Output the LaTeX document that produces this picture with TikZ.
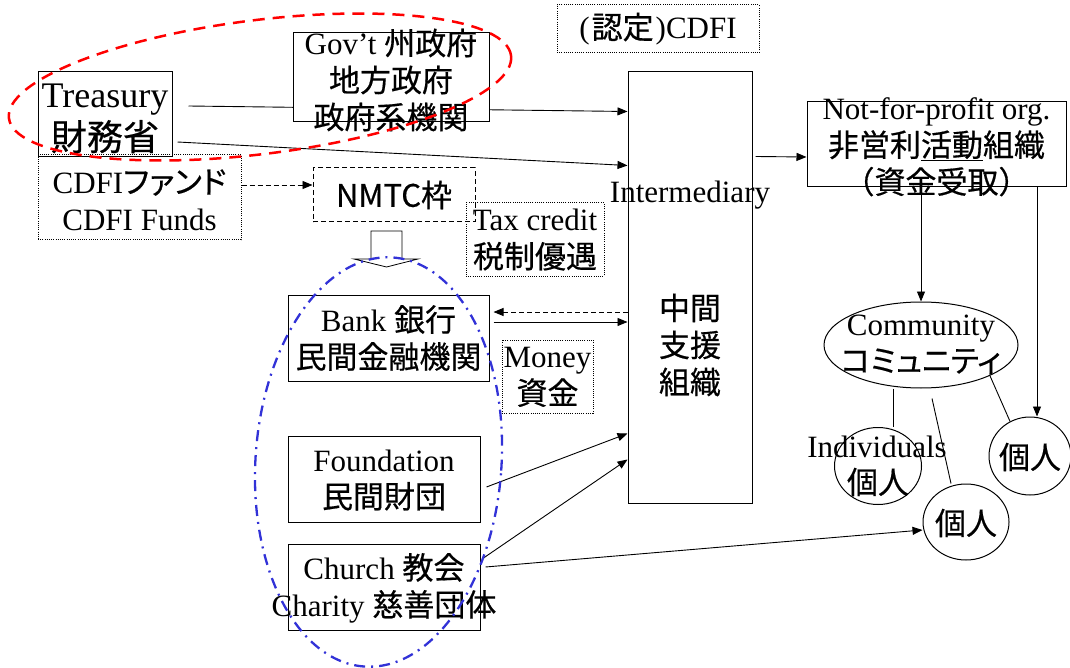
\documentclass[tikz,border=0pt]{standalone}
\usepackage{fontspec}
\setmainfont{Liberation Serif}
\newfontfamily\jp[FakeBold=0.5]{Noto Sans CJK JP}
\newfontfamily\jpp[RawFeature=+palt,FakeBold=0.5]{Noto Sans CJK JP}
\usetikzlibrary{arrows.meta,shapes.geometric}
\begin{document}
\begin{tikzpicture}[x=1pt,y=-1pt,
  >={Triangle[length=10pt,width=8pt]},
  box/.style={draw,rectangle,inner sep=0pt,line width=1pt},
  dotbox/.style={box,dash pattern=on 1pt off 1.2pt},
  dashbox/.style={box,dash pattern=on 5pt off 3pt},
  oval/.style={draw,ellipse,inner sep=0pt,line width=1pt},
  txt/.style={align=center,inner sep=0pt,font=\fontsize{31}{37}\selectfont},
  bigtxt/.style={align=center,inner sep=0pt,font=\fontsize{36}{43}\selectfont},
  conn/.style={line width=0.9pt},
  dconn/.style={line width=0.9pt,dash pattern=on 5pt off 3pt},
  redring/.style={draw=red,line width=2.5pt,dash pattern=on 12pt off 8pt},
  bluering/.style={draw={rgb,255:red,50;green,50;blue,215},line width=2.3pt,dash pattern=on 11pt off 6pt on 2pt off 6pt}
]
\useasboundingbox (0,0) rectangle (1070,668);

% boxes
\node[box,minimum width=134pt,minimum height=85pt] (treas) at (105,114.5) {};
\node[dotbox,minimum width=203pt,minimum height=85pt] (cdfi) at (139.5,197.5) {};
\node[dashbox,minimum width=162pt,minimum height=54pt] (nmtc) at (394,195) {};
\node[dotbox,minimum width=138pt,minimum height=73pt] (tax) at (535,239.5) {};
\node[dotbox,minimum width=202pt,minimum height=48pt] (cert) at (658,29) {};
\node[box,minimum width=124pt,minimum height=431pt] (inter) at (690,287.5) {};
\node[box,minimum width=259pt,minimum height=85pt] (nfp) at (936.5,144.5) {};
\node[box,minimum width=201pt,minimum height=86pt] (bank) at (388.5,338) {};
\node[box,minimum width=192pt,minimum height=86pt] (found) at (384,479) {};
\node[box,minimum width=192pt,minimum height=86pt] (church) at (384,587) {};
\node[dotbox,minimum width=91pt,minimum height=73pt] (money) at (547.5,376.5) {};
\node[oval,minimum width=194pt,minimum height=86pt] (comm) at (921,345) {};
\node[oval,minimum width=87pt,minimum height=77pt] (p1) at (878,466) {};
\node[oval,minimum width=86pt,minimum height=76pt] (p2) at (966,522) {};
\node[oval,minimum width=82pt,minimum height=78pt] (p3) at (1030,456) {};

% connectors
\draw[conn,->] ([xshift=16pt,yshift=8.5pt]treas.east) -- ([yshift=-40pt]inter.north west);
\draw[conn,->] ([xshift=5pt,yshift=-27.5pt]treas.east) -- ([yshift=-94pt]inter.north west);
\node[box,fill=white,minimum width=196pt,minimum height=89pt] (gov) at (391,77.5) {};
\draw[conn,->] ([xshift=3pt,yshift=-85pt]inter.north east) -- ([yshift=-12.5pt]nfp.west);
\draw[conn,->] (comm.north |- nfp.south) -- (comm.north);
\draw[conn,->] ([xshift=100.5pt]nfp.south) -- ([xshift=7pt]p3.north);
\draw[conn] ([xshift=-28pt]comm.south) -- ([xshift=15pt]p1.north);
\draw[conn] ([xshift=11pt,yshift=-10pt]comm.south) -- ([xshift=-15pt]p2.north);
\draw[conn] (comm.south east) -- (p3.120);
\coordinate (b1) at ([xshift=4pt,yshift=26pt]bank.east);
\coordinate (b2) at ([xshift=4pt,yshift=16pt]bank.east);
\draw[dconn,->] (inter.west |- b1) -- (b1);
\draw[conn,->] (b2) -- (inter.west |- b2);
\draw[conn,->] ([xshift=6pt,yshift=-8pt]found.east) -- ([yshift=70pt]inter.south west);
\draw[conn,->] ([xshift=3pt,yshift=29pt]church.east) -- ([yshift=44pt]inter.south west);
\draw[conn,->] ([xshift=5pt,yshift=20pt]church.east) -- ([yshift=-8pt]p2.west);
\coordinate (c1) at ([yshift=12.5pt]cdfi.east);
\draw[dconn,->] (c1) -- (nmtc.west |- c1);

% hollow arrow below NMTC
\draw[fill=white,line width=0.8pt] (371,231) -- (402,231) -- (402,259) -- (418,259) -- (386.5,267) -- (354,259) -- (371,259) -- cycle;

% texts
\node[bigtxt] (treasT) at (105,118.5) {Treasury\\{\jp 財務省}};
\node[txt] (govT) at (391,80) {Gov’t {\jp 州政府}\\{\jp 地方政府}\\{\jp 政府系機関}};
\node[txt] (cdfiT) at (139.5,200) {CDFI{\jpp ファンド}\\CDFI Funds};
\node[txt,font=\jp\fontsize{31}{37}\selectfont] (nmtcT) at (394,195) {NMTC枠};
\node[txt,font=\jp\fontsize{31}{37}\selectfont] (taxT) at (535,240) {\rmfamily Tax credit\\税制優遇};
\node[txt] (certT) at (658,29) {(\kern2pt{\jp 認定}\kern2pt)CDFI};
\node[txt] (interT) at (690,195) {Intermediary};
\node[txt] (interJ) at (690,345) {\jp 中間\\\jp 支援\\\jp 組織};
\node[txt] (nfpT) at (936.5,147) {Not-for-profit org.\\{\jp 非営利\underline{活動}組織}\\{\jp （資金受取）}};
\node[txt] (bankT) at (388.5,338) {Bank {\jp 銀行}\\{\jp 民間金融機関}};
\node[txt] (moneyT) at (547.5,377) {Money\\{\jp 資金}};
\node[txt] (foundT) at (384,480) {Foundation\\{\jp 民間財団}};
\node[txt] (churchT) at (384,588) {Church {\jp 教会}\\Charity {\jp 慈善団体}};
\node[txt] (commT) at (921,344.5) {Community\\{\jpp コミュニティ}};
\node[txt] (indT) at (877,447) {Individuals};
\node[txt] (p1T) at (878,482) {\jp 個人};
\node[txt] (p2T) at (966,523) {\jp 個人};
\node[txt] (p3T) at (1030,457) {\jp 個人};

% rings
\draw[redring] (260,87) ellipse [x radius=253pt, y radius=67pt, rotate=7.1];
\draw[bluering] (378.5,462) ellipse [x radius=123pt, y radius=205pt, rotate=-4];
\end{tikzpicture}
\end{document}
